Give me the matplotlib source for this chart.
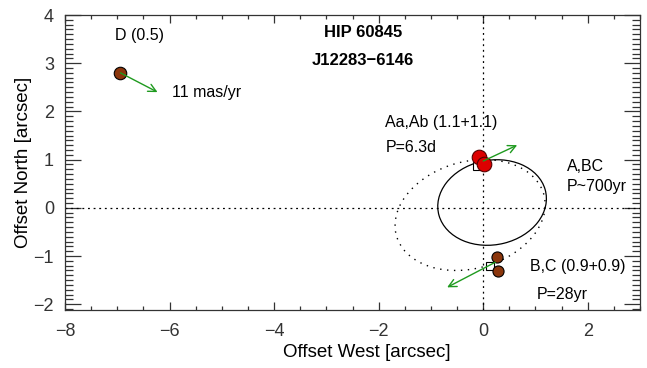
import numpy as np
import matplotlib
matplotlib.use("Agg")
import matplotlib.pyplot as plt
from matplotlib.patches import Ellipse
from matplotlib.ticker import MultipleLocator, FuncFormatter

# component positions (offset west, offset north) in arcsec
aa_ab_x = [-0.08, 0.02]
aa_ab_y = [1.05, 0.91]
bc_x = [0.27, 0.29]
bc_y = [-1.01, -1.32]
d_x = [-6.94]
d_y = [2.80]
# photocentres of the close pairs
sq_x = [-0.12, 0.13]
sq_y = [0.87, -1.20]

# proper-motion arrows: start x, start y, end x, end y
arrow_x0 = [-6.94, 0.00, 0.23]
arrow_y0 = [2.80, 0.97, -1.13]
arrow_x1 = [-6.23, 0.65, -0.69]
arrow_y1 = [2.40, 1.30, -1.65]

# orbits: centre x, centre y, width, height, angle
orbit_abc = (0.17, 0.11, 2.10, 1.75, 15)
orbit_bc_dotted = (-0.25, -0.15, 2.95, 2.20, 20)

labels = ["D (0.5)", "11 mas/yr", "Aa,Ab (1.1+1.1)", "P=6.3d",
          "A,BC", "P~700yr", "B,C (0.9+0.9)", "P=28yr"]
label_x = [-7.04, -5.95, -1.87, -1.87, 1.60, 1.60, 0.90, 1.03]
label_y = [3.57, 2.40, 1.76, 1.26, 0.85, 0.44, -1.22, -1.80]

plt.rcParams["font.family"] = ["Liberation Sans", "DejaVu Sans"]

green = "#1f9a1f"
red = "#dd0000"
brown = "#8b360c"

fig = plt.figure(figsize=(6.47, 3.68), dpi=100)
ax = fig.add_axes([0.1005, 0.1576, 0.8887, 0.8016])

ax.axhline(0, color="black", lw=0.9, ls=(0, (1.5, 3)))
ax.axvline(0, color="black", lw=0.9, ls=(0, (1.5, 3)))

cx, cy, w, h, ang = orbit_abc
ax.add_patch(Ellipse((cx, cy), w, h, angle=ang, fill=False, ec="black", lw=0.9))
cx, cy, w, h, ang = orbit_bc_dotted
ax.add_patch(Ellipse((cx, cy), w, h, angle=ang, fill=False, ec="black",
                     lw=1.0, ls=(0, (1, 4))))

ax.plot(sq_x, sq_y, "s", ms=5.5, mfc="white", mec="black", mew=0.8, zorder=3)
ax.plot(aa_ab_x, aa_ab_y, "o", ms=10.5, mfc=red, mec="#550000", mew=0.8, zorder=4)
ax.plot(bc_x, bc_y, "o", ms=8, mfc=brown, mec="black", mew=0.8, zorder=4)
ax.plot(d_x, d_y, "o", ms=9, mfc=brown, mec="black", mew=0.8, zorder=4)

for x0, y0, x1, y1 in zip(arrow_x0, arrow_y0, arrow_x1, arrow_y1):
    ax.annotate("", xy=(x1, y1), xytext=(x0, y0), zorder=5,
                arrowprops=dict(arrowstyle="->", color=green, lw=1.0,
                                mutation_scale=14, shrinkA=0, shrinkB=0))

for s, x, y in zip(labels, label_x, label_y):
    ax.text(x, y, s, fontsize=11.5, ha="left", va="center")

ax.text(-2.3, 3.63, "HIP 60845", fontsize=12, fontweight="bold", ha="center", va="center")
ax.text(-2.3, 3.05, "J12283\u22126146", fontsize=12, fontweight="bold", ha="center", va="center")

ax.set_xlim(-8, 3)
ax.set_ylim(-2.12, 4)

ax.xaxis.set_major_locator(MultipleLocator(2))
ax.xaxis.set_minor_locator(MultipleLocator(0.5))
ax.yaxis.set_major_locator(MultipleLocator(1))
ax.yaxis.set_minor_locator(MultipleLocator(0.1))
fmt = FuncFormatter(lambda v, p: ("\u2212" + "%d" % abs(round(v))) if round(v) < 0 else "%d" % round(v))
ax.xaxis.set_major_formatter(fmt)
ax.yaxis.set_major_formatter(fmt)

ax.tick_params(axis="both", which="both", direction="in", top=True, right=True,
               colors="#333333", labelcolor="#333333", labelsize=13)
ax.tick_params(axis="x", which="major", length=6, width=0.9, pad=9)
ax.tick_params(axis="x", which="minor", length=3, width=0.9)
ax.tick_params(axis="y", which="major", length=11.5, width=0.9, pad=8)
ax.tick_params(axis="y", which="minor", length=5.5, width=0.9)
for sp in ax.spines.values():
    sp.set_linewidth(0.9)
    sp.set_color("#333333")

ax.set_xlabel("Offset West [arcsec]", fontsize=13.5)
ax.xaxis.set_label_coords(0.525, -0.115)
ax.set_ylabel("Offset North [arcsec]", fontsize=13.5)
ax.yaxis.set_label_coords(-0.058, 0.5)

fig.savefig("out.png", dpi=100)
